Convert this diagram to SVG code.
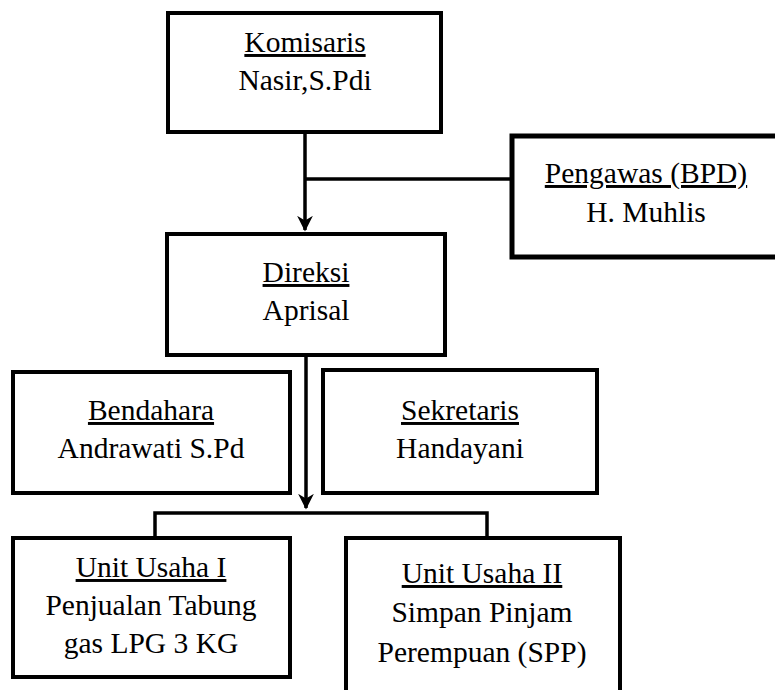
<svg xmlns="http://www.w3.org/2000/svg" width="775" height="690" viewBox="0 0 775 690">
<style>
.box{fill:#fff;stroke:#000;stroke-width:4}
.t{font-family:'Liberation Serif','Times New Roman',Tinos,'DejaVu Serif',serif;font-size:29.5px;fill:#000;text-anchor:middle}
.u{text-decoration:underline}
.c{stroke:#000;stroke-width:3.5;fill:none}
</style>
<defs>
<marker id="ah" viewBox="0 0 10 10" refX="9" refY="5" markerWidth="4.5" markerHeight="4.5" orient="auto" markerUnits="strokeWidth">
<path d="M0,0 L10,5 L0,10 L3,5 Z" fill="#000"/>
</marker>
</defs>
<g id="connectors">
<line class="c" x1="305" y1="132" x2="305" y2="230" marker-end="url(#ah)"/>
<line class="c" x1="305" y1="179" x2="512" y2="179"/>
<line class="c" x1="306" y1="355" x2="306" y2="508" marker-end="url(#ah)"/>
<polyline class="c" points="155,538 155,513 487,513 487,538"/>
</g>
<g id="komisaris">
<rect class="box" x="168" y="13" width="273" height="119"/>
<text class="t u" x="305" y="52">Komisaris</text>
<text class="t" x="305" y="90">Nasir,S.Pdi</text>
</g>
<g id="pengawas">
<rect class="box" x="512" y="136" width="270" height="121" style="stroke-width:5"/>
<text class="t u" x="646" y="183">Pengawas (BPD)</text>
<text class="t" x="646" y="222">H. Muhlis</text>
</g>
<g id="direksi">
<rect class="box" x="167" y="234" width="278" height="121"/>
<text class="t u" x="306" y="282">Direksi</text>
<text class="t" x="306" y="320">Aprisal</text>
</g>
<g id="bendahara">
<rect class="box" x="13" y="372" width="277" height="121"/>
<text class="t u" x="151" y="420">Bendahara</text>
<text class="t" x="151" y="458">Andrawati S.Pd</text>
</g>
<g id="sekretaris">
<rect class="box" x="323" y="370" width="274" height="123"/>
<text class="t u" x="460" y="420">Sekretaris</text>
<text class="t" x="460" y="458">Handayani</text>
</g>
<g id="unit1">
<rect class="box" x="13" y="538" width="277" height="139"/>
<text class="t u" x="151" y="577">Unit Usaha I</text>
<text class="t" x="151" y="615">Penjualan Tabung</text>
<text class="t" x="151" y="653">gas LPG 3 KG</text>
</g>
<g id="unit2">
<rect class="box" x="346" y="538" width="274" height="160"/>
<text class="t u" x="482" y="583">Unit Usaha II</text>
<text class="t" x="482" y="622">Simpan Pinjam</text>
<text class="t" x="482" y="662">Perempuan (SPP)</text>
</g>
</svg>
